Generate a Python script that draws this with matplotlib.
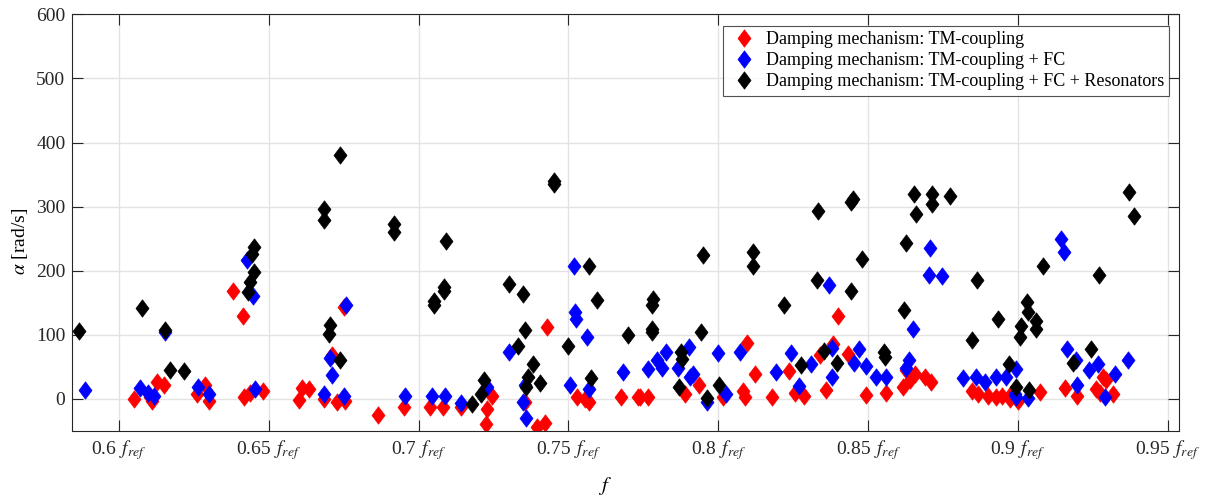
import matplotlib
matplotlib.use("Agg")
import matplotlib.pyplot as plt
from matplotlib.path import Path

plt.rcParams['font.family'] = ['Liberation Serif', 'DejaVu Serif']
plt.rcParams['mathtext.fontset'] = 'stix'

# ---------------- data ----------------
red_f = [0.6052, 0.6103, 0.6111, 0.6128, 0.6150, 0.6261, 0.6289, 0.6302, 0.6381, 0.6415,
         0.6419, 0.6437, 0.6481, 0.6600, 0.6611, 0.6633, 0.6686, 0.6711, 0.6728, 0.6750,
         0.6756, 0.6865, 0.6953, 0.7039, 0.7083, 0.7141, 0.7228, 0.7226, 0.7245, 0.7355,
         0.7395, 0.7422, 0.7428, 0.7528, 0.7556, 0.7570, 0.7676, 0.7733, 0.7739, 0.7767,
         0.7889, 0.7937, 0.8017, 0.8083, 0.8089, 0.8097, 0.8122, 0.8180, 0.8237, 0.8256,
         0.8286, 0.8341, 0.8359, 0.8383, 0.8398, 0.8433, 0.8492, 0.8559, 0.8615, 0.8626,
         0.8639, 0.8656, 0.8689, 0.8709, 0.8845, 0.8867, 0.8900, 0.8928, 0.8948, 0.8972,
         0.8975, 0.9000, 0.9074, 0.9156, 0.9197, 0.9261, 0.9272, 0.9283, 0.9294, 0.9317]
red_a = [0, 2.5, -3, 26, 21, 8, 22, -3, 169, 130,
         2.5, 10, 13, -1.5, 17, 16, 0, 68, -4, 143,
         -3, -24.5, -13, -13, -13, -13, -16, -39, 5, -5,
         -43, -37, 113, 2.5, 0, -4, 2.5, 2.5, 2.5, 2.5,
         7, 21, 2.5, 13, 2.5, 88, 39, 2.5, 43, 10,
         5, 69, 14, 86, 130, 70, 6, 10, 18, 45,
         29, 39, 34, 26, 13, 8, 5, 2.5, 5, 0,
         8, -3, 11, 17, 4, 16, 10, 34, 30, 8]

blue_f = [0.5886, 0.6072, 0.6097, 0.6119, 0.6153, 0.6265, 0.6302, 0.6426, 0.6448, 0.6456,
          0.6683, 0.6706, 0.6711, 0.6750, 0.6759, 0.6956, 0.7045, 0.7089, 0.7141, 0.7228,
          0.7303, 0.7350, 0.7359, 0.7355, 0.7506, 0.7517, 0.7522, 0.7526, 0.7561, 0.7570,
          0.7683, 0.7767, 0.7795, 0.7811, 0.7826, 0.7866, 0.7903, 0.7906, 0.7917, 0.7961,
          0.7998, 0.8025, 0.8072, 0.8192, 0.8241, 0.8270, 0.8311, 0.8370, 0.8378, 0.8381,
          0.8452, 0.8470, 0.8494, 0.8526, 0.8561, 0.8626, 0.8637, 0.8650, 0.8704, 0.8706,
          0.8745, 0.8817, 0.8859, 0.8891, 0.8928, 0.8961, 0.8989, 0.8994, 0.8994, 0.9034,
          0.9142, 0.9153, 0.9164, 0.9194, 0.9197, 0.9236, 0.9266, 0.9289, 0.9322, 0.9366]
blue_a = [14.5, 17, 10, 5, 105, 19, 8, 216, 161, 16,
          8, 64, 38, 4, 147, 4, 4, 4, -7, 18,
          74, -4, -30, 22, 21, 208, 135, 125, 96, 16,
          42, 47, 60, 49, 74, 48, 81, 35, 39, -4,
          72, 8, 74, 42, 72, 20, 54, 177, 34, 80,
          56, 78, 52, 35, 35, 48, 61, 109, 194, 236,
          192, 33, 34, 26, 34, 34, 8, 47, 2.5, 1,
          250, 229, 78, 60, 22, 45, 55, 2.5, 39, 60]

black_f = [0.5867, 0.6076, 0.6153, 0.6170, 0.6219, 0.6431, 0.6437, 0.6445, 0.6450, 0.6450,
           0.6686, 0.6683, 0.6700, 0.6703, 0.6737, 0.6737, 0.6919, 0.6919, 0.7050, 0.7050,
           0.7086, 0.7086, 0.7091, 0.7180, 0.7208, 0.7220, 0.7303, 0.7331, 0.7350, 0.7356,
           0.7359, 0.7364, 0.7383, 0.7406, 0.7453, 0.7453, 0.7500, 0.7569, 0.7575, 0.7595,
           0.7700, 0.7778, 0.7781, 0.7778, 0.7778, 0.7870, 0.7875, 0.7878, 0.7942, 0.7950,
           0.7961, 0.8003, 0.8117, 0.8117, 0.8220, 0.8275, 0.8328, 0.8333, 0.8352, 0.8395,
           0.8444, 0.8444, 0.8450, 0.8478, 0.8553, 0.8556, 0.8620, 0.8625, 0.8652, 0.8661,
           0.8713, 0.8713, 0.8772, 0.8845, 0.8863, 0.8933, 0.8970, 0.8994, 0.9008, 0.9011,
           0.9031, 0.9034, 0.9037, 0.9059, 0.9059, 0.9083, 0.9183, 0.9244, 0.9270, 0.9370,
           0.9387]
black_a = [106, 142, 108, 45, 43, 167, 182, 226, 237, 198,
           297, 279, 102, 116, 60, 380, 273, 260, 153, 147,
           175, 168, 247, -8, 8, 30, 180, 82, 163, 108,
           18, 35, 55, 25, 340, 335, 83, 208, 33, 155,
           100, 146, 156, 109, 104, 19, 73, 62.5, 105, 224,
           1, 21, 229, 208, 147, 53, 186, 293, 75, 56,
           168, 307, 312, 218, 73, 65, 138, 243, 320, 288,
           320, 304, 317, 92, 185, 125, 55, 18, 97, 114,
           151, 135, 14, 122, 109, 208, 56, 78, 193, 323,
           286]

series_labels = ['Damping mechanism: TM-coupling',
                 'Damping mechanism: TM-coupling + FC',
                 'Damping mechanism: TM-coupling + FC + Resonators']
xtick_vals = [0.6, 0.65, 0.7, 0.75, 0.8, 0.85, 0.9, 0.95]
ytick_vals = [0, 100, 200, 300, 400, 500, 600]

# ---------------- plotting ----------------
diamond = Path([(0, 1), (0.75, 0), (0, -1), (-0.75, 0), (0, 1)],
               [Path.MOVETO, Path.LINETO, Path.LINETO, Path.LINETO, Path.CLOSEPOLY])

fig = plt.figure(figsize=(12.1, 5), dpi=100)
ax = fig.add_axes([0.0598, 0.138, 0.9148, 0.8334])

ms = 12.5
for fx, ay, col, lab in [(red_f, red_a, 'red', series_labels[0]),
                         (blue_f, blue_a, 'blue', series_labels[1]),
                         (black_f, black_a, 'black', series_labels[2])]:
    ax.plot(fx, ay, linestyle='none', marker=diamond, markersize=ms,
            color=col, markeredgecolor=col, markeredgewidth=0.5, label=lab)

ax.set_xlim(0.5845, 0.9538)
ax.set_ylim(-50, 600)
ax.set_xticks(xtick_vals)
ax.set_xticklabels([f'{v:g}' + r'$\;\,f_{ref}$' for v in xtick_vals])
ax.set_yticks(ytick_vals)
ax.grid(True, color='#e3e3e3', linewidth=1.0)
ax.set_axisbelow(True)

for s in ax.spines.values():
    s.set_color('#262626')
    s.set_linewidth(0.8)
ax.tick_params(direction='in', length=8, width=0.8, colors='#262626',
               top=True, right=True, labelsize=14)
ax.tick_params(axis='x', pad=5)
ax.tick_params(axis='y', pad=5)

ax.set_xlabel(r'$f$', fontsize=15)
ax.xaxis.set_label_coords(0.481, -0.105)
ax.set_ylabel(r'$\alpha$ [rad/s]', fontsize=14)
ax.yaxis.set_label_coords(-0.038, 0.456)

leg = ax.legend(loc='upper right', bbox_to_anchor=(0.991, 0.972), borderaxespad=0,
                fontsize=13, frameon=True, fancybox=False, edgecolor='#262626',
                handletextpad=0.4, borderpad=0.3, labelspacing=0.22,
                handlelength=1.64, markerscale=1.0)
leg.get_frame().set_linewidth(0.8)

fig.savefig('out.png', dpi=100)
